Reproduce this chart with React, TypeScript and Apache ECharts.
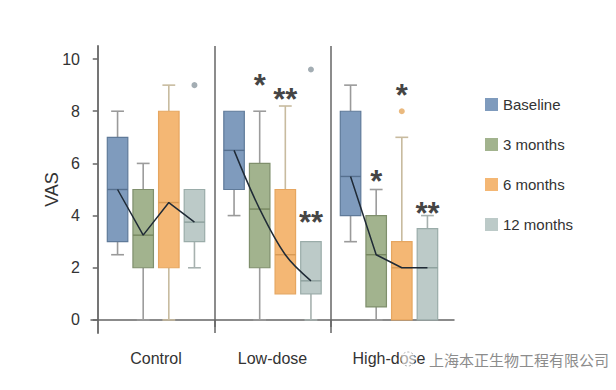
import React, { useEffect, useRef } from "react";
import * as echarts from "echarts";

// ---- data ----
const GROUPS = ["Control", "Low-dose", "High-dose"];
const SERIES_NAMES = ["Baseline", "3 months", "6 months", "12 months"];
// per group: [min, Q1, median, Q3, max]
const BASELINE = [
  [2.5, 3, 5, 7, 8],
  [4, 5, 6.5, 8, 8],
  [3, 4, 5.5, 8, 9],
];
const MONTH3 = [
  [0, 2, 3.25, 5, 6],
  [0, 2, 4.25, 6, 8],
  [0, 0.5, 2.5, 4, 5],
];
const MONTH6 = [
  [0, 2, 4.5, 8, 9],
  [1, 1, 2.5, 5, 8.2],
  [0, 0, 2, 3, 7],
];
const MONTH12 = [
  [2, 3, 3.75, 5, 5],
  [0, 1, 1.5, 3, 3],
  [0, 0, 2, 3.5, 4],
];
// [group, series, value]
const OUTLIERS: [number, number, number][] = [
  [0, 3, 9],
  [1, 3, 9.6],
  [2, 2, 8],
];
// [group, series, text, value]
const ANNOTATIONS: [number, number, string, number][] = [
  [1, 1, "*", 9.3],
  [1, 2, "**", 8.75],
  [1, 3, "**", 4.05],
  [2, 1, "*", 5.6],
  [2, 2, "*", 8.9],
  [2, 3, "**", 4.4],
];
const Y_TICKS = [0, 2, 4, 6, 8, 10];
const WATERMARK = "上海本正生物工程有限公司";

// ---- styles / layout ----
const ALL = [BASELINE, MONTH3, MONTH6, MONTH12];
const FILL = ["#7f9bbd", "#a2b38e", "#f4b774", "#bccac8"];
const BORDER = ["#5f7a99", "#7f8f6c", "#e6a660", "#9aaca9"];
const WHISKER = ["#9a9a9a", "#9c9c9c", "#c8bb9f", "#a7b1af"];
const MEDIAN = ["#56708f", "#76875f", "#d89a55", "#8c9f9c"];
const OUTLIER_COLOR = ["#5f7a99", "#7f8f6c", "#e5a75e", "#8c98a0"];
const OFFSETS = [-0.33, -0.11, 0.11, 0.33];
const BOX_W = 0.176;
const CAP_W = 0.11;
const FONT = "'Liberation Sans', Arial, sans-serif";
const AXIS_COLOR = "#666";

const pos = (g: number, s: number) => g + 0.5 + OFFSETS[s];

function boxSeries(s: number) {
  return {
    type: "custom",
    name: SERIES_NAMES[s],
    z: 2,
    itemStyle: { color: FILL[s] },
    encode: { x: 0, y: [1, 2, 3, 4, 5] },
    data: ALL[s].map((d, g) => [g, ...d]),
    renderItem: (params: any, api: any) => {
      const g = api.value(0);
      const mn = api.value(1);
      const q1 = api.value(2);
      const md = api.value(3);
      const q3 = api.value(4);
      const mx = api.value(5);
      const xc = pos(g, s);
      const cx = api.coord([xc, md])[0];
      const y = (v: number) => api.coord([xc, v])[1];
      const half = api.size([BOX_W, 0])[0] / 2;
      const cap = api.size([CAP_W, 0])[0] / 2;
      const wStyle = { stroke: WHISKER[s], lineWidth: 1.6 };
      const children: any[] = [];
      if (mx > q3) {
        children.push({ type: "line", shape: { x1: cx, y1: y(q3), x2: cx, y2: y(mx) }, style: wStyle });
        children.push({ type: "line", shape: { x1: cx - cap, y1: y(mx), x2: cx + cap, y2: y(mx) }, style: wStyle });
      }
      if (mn < q1) {
        children.push({ type: "line", shape: { x1: cx, y1: y(q1), x2: cx, y2: y(mn) }, style: wStyle });
        children.push({ type: "line", shape: { x1: cx - cap, y1: y(mn), x2: cx + cap, y2: y(mn) }, style: wStyle });
      }
      children.push({
        type: "rect",
        shape: { x: cx - half, y: y(q3), width: half * 2, height: y(q1) - y(q3) },
        style: { fill: FILL[s], stroke: BORDER[s], lineWidth: 1.2 },
      });
      children.push({
        type: "line",
        shape: { x1: cx - half, y1: y(md), x2: cx + half, y2: y(md) },
        style: { stroke: MEDIAN[s], lineWidth: 1.4 },
      });
      return { type: "group", children };
    },
  };
}

function medianLine(g: number) {
  return {
    type: "line",
    z: 4,
    symbol: "none",
    smooth: g === 1 ? 0.35 : false,
    lineStyle: { color: "#1f2a36", width: 1.5 },
    data: ALL.map((arr, s) => [pos(g, s), arr[g][2]]),
    markLine:
      g === 0
        ? {
            silent: true,
            symbol: ["none", "none"],
            label: { show: false },
            lineStyle: { color: AXIS_COLOR, width: 1.5, type: "solid" },
            data: [{ xAxis: 1 }, { xAxis: 2 }],
          }
        : undefined,
  };
}

export default function App() {
  const ref = useRef<HTMLDivElement>(null);
  useEffect(() => {
    if (!ref.current) return;
    const chart = echarts.init(ref.current, undefined, { renderer: "svg" });
    chart.setOption({
      animation: false,
      backgroundColor: "#ffffff",
      textStyle: { fontFamily: FONT },
      grid: { left: 91, right: 162, top: 46, bottom: 57 },
      legend: {
        orient: "vertical",
        left: 480,
        top: 92,
        itemWidth: 13,
        itemHeight: 13,
        itemGap: 25,
        icon: "rect",
        data: SERIES_NAMES,
        textStyle: { fontSize: 15, color: "#333", fontFamily: FONT },
      },
      xAxis: {
        type: "value",
        min: -0.058,
        max: 3.058,
        splitLine: { show: false },
        axisLine: { show: true, lineStyle: { color: AXIS_COLOR, width: 1.5 } },
        axisTick: { show: true, length: 7, customValues: [1, 2], lineStyle: { color: AXIS_COLOR, width: 1.5 } },
        axisLabel: {
          customValues: [0.5, 1.5, 2.5],
          formatter: (v: number) => GROUPS[Math.floor(v)] ?? "",
          fontSize: 16,
          color: "#333",
          margin: 17,
          fontFamily: FONT,
        },
      },
      yAxis: {
        type: "value",
        min: -0.5,
        max: 10.5,
        name: "VAS",
        nameLocation: "middle",
        nameGap: 30,
        nameMoveOverlap: false,
        nameTextStyle: { fontSize: 18, color: "#333", fontFamily: FONT },
        splitLine: { show: false },
        axisLine: { show: true, lineStyle: { color: AXIS_COLOR, width: 1.8 } },
        axisTick: { show: true, length: 5, customValues: Y_TICKS, lineStyle: { color: AXIS_COLOR, width: 1.5 } },
        axisLabel: { customValues: Y_TICKS, fontSize: 16, color: "#333", margin: 11, fontFamily: FONT },
      },
      series: [
        ...[0, 1, 2, 3].map(boxSeries),
        ...[0, 1, 2].map(medianLine),
        {
          type: "scatter",
          z: 3,
          symbolSize: 6,
          data: OUTLIERS.map(([g, s, v]) => ({ value: [pos(g, s), v], itemStyle: { color: OUTLIER_COLOR[s] } })),
        },
        {
          type: "scatter",
          z: 5,
          symbolSize: 1,
          itemStyle: { color: "rgba(0,0,0,0)" },
          data: ANNOTATIONS.map(([g, s, t, v]) => ({
            value: [pos(g, s), v],
            label: { formatter: t },
          })),
          label: {
            show: true,
            position: "inside",
            fontSize: 31,
            fontWeight: "bold",
            color: "#111",
            offset: [0, 8],
            fontFamily: FONT,
          },
        },
      ],
      graphic: [
        {
          type: "circle",
          shape: { cx: 408, cy: 359, r: 7 },
          style: { fill: "rgba(255,255,255,0.6)", stroke: "#aaa", lineWidth: 1, lineDash: [2, 2] },
          z: 10,
        },
        {
          type: "text",
          left: 429,
          top: 352,
          z: 10,
          style: {
            text: WATERMARK,
            fontSize: 15,
            fill: "#8c8c8c",
            fontFamily: "'Noto Sans CJK SC', sans-serif",
          },
        },
      ],
    });
    return () => chart.dispose();
  }, []);
  return (
    <div
      ref={ref}
      style={{ position: "fixed", left: 0, top: 0, width: 616, height: 390, background: "#fff" }}
    />
  );
}
